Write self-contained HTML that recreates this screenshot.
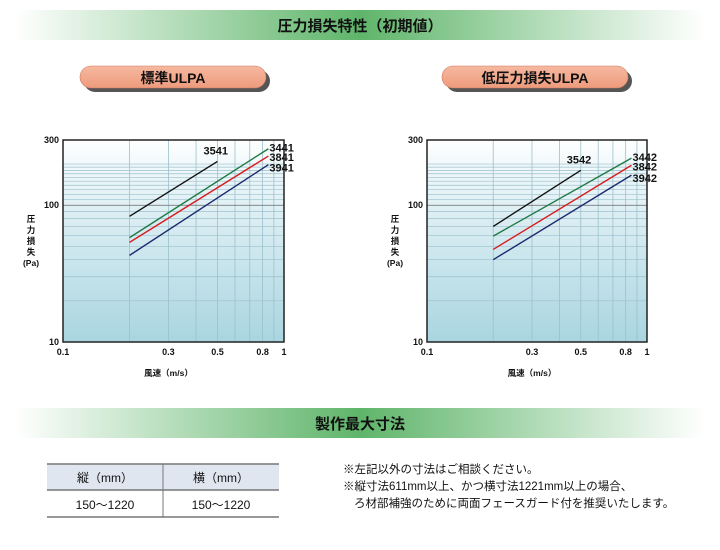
<!DOCTYPE html>
<html><head><meta charset="utf-8"><style>
body{margin:0;width:720px;height:545px;background:#fff;overflow:hidden;font-family:"Liberation Sans","Noto Sans CJK JP",sans-serif}
svg text{font-family:"Liberation Sans","Noto Sans CJK JP",sans-serif}
</style></head><body>
<svg id="s" width="720" height="545" xmlns="http://www.w3.org/2000/svg">
<defs>
<linearGradient id="band" x1="0" x2="1"><stop offset="0" stop-color="#fff"/><stop offset="0.5" stop-color="#5fb56a"/><stop offset="1" stop-color="#fff"/></linearGradient>
<linearGradient id="plotbg" x1="0" y1="0" x2="0" y2="1"><stop offset="0" stop-color="#ffffff"/><stop offset="0.15" stop-color="#eef7fa"/><stop offset="1" stop-color="#a9d5e0"/></linearGradient>
<linearGradient id="pill" x1="0" y1="0" x2="0" y2="1"><stop offset="0" stop-color="#f6b9a0"/><stop offset="1" stop-color="#ee9a7c"/></linearGradient>
</defs>
<rect x="15" y="10" width="690" height="30" fill="url(#band)"/>
<text x="360" y="31" text-anchor="middle" font-size="15" font-weight="bold" fill="#111">圧力損失特性（初期値）</text>
<g>
<rect x="84" y="70" width="186" height="22" rx="11" fill="#555"/>
<rect x="80" y="66" width="186" height="22" rx="11" fill="url(#pill)" stroke="#c97a5e" stroke-width="0.6"/>
<text x="173" y="83" text-anchor="middle" font-size="14" font-weight="bold" fill="#111">標準ULPA</text></g>
<g>
<rect x="446" y="70" width="186" height="22" rx="11" fill="#555"/>
<rect x="442" y="66" width="186" height="22" rx="11" fill="url(#pill)" stroke="#c97a5e" stroke-width="0.6"/>
<text x="535" y="83" text-anchor="middle" font-size="14" font-weight="bold" fill="#111">低圧力損失ULPA</text></g>
<g id="c1"></g>
<g id="c2"></g>
<rect x="15" y="408" width="690" height="30" fill="url(#band)"/>
<text x="360" y="429" text-anchor="middle" font-size="15" font-weight="bold" fill="#111">製作最大寸法</text>
<g>
<rect x="47" y="464" width="232" height="26" fill="#dfe6f0"/>
<line x1="47" y1="464" x2="279" y2="464" stroke="#777" stroke-width="1.5"/>
<line x1="47" y1="490" x2="279" y2="490" stroke="#777" stroke-width="1.5"/>
<line x1="47" y1="517" x2="279" y2="517" stroke="#777" stroke-width="1.5"/>
<line x1="163" y1="464" x2="163" y2="517" stroke="#777"/>
<text x="105" y="482" text-anchor="middle" font-size="12" fill="#111">縦（mm）</text>
<text x="221" y="482" text-anchor="middle" font-size="12" fill="#111">横（mm）</text>
<text x="105" y="509" text-anchor="middle" font-size="12" fill="#111">150～1220</text>
<text x="221" y="509" text-anchor="middle" font-size="12" fill="#111">150～1220</text>
</g>
<g font-size="11.5" fill="#111">
<text x="343" y="473">※左記以外の寸法はご相談ください。</text>
<text x="343" y="490">※縦寸法611mm以上、かつ横寸法1221mm以上の場合、</text>
<text x="354" y="507">ろ材部補強のために両面フェースガード付を推奨いたします。</text>
</g>
</svg>
<script>
const xTicks=[0.1,0.3,0.5,0.8,1];
const xTickLabels=["0.1","0.3","0.5","0.8","1"];
const yTicks=[10,100,300];
const yTickLabels=["10","100","300"];
const seriesColors=["#111","#1e7a45","#d81e1e","#1c2a6e"];
const speedStart=[0.2,0.2,0.2,0.2];
const speedEnd1=[0.5,0.85,0.85,0.85];
const speedEnd2=[0.5,0.85,0.85,0.85];
const names1=["3541","3441","3841","3941"];
const start1=[83,58,53.5,43];
const end1=[209,259,229,198];
const names2=["3542","3442","3842","3942"];
const start2=[70,59.5,47.5,40];
const end2=[180,221,196,166];
const NS="http://www.w3.org/2000/svg";
function mk(p,t,a){const e=document.createElementNS(NS,t);for(const k in a)e.setAttribute(k,a[k]);p.appendChild(e);return e;}
function chart(g,x0,x1,names,st,en,ends){
 const y0=342,yTop=140;
 const sx=v=>x0+(x1-x0)*(Math.log10(v)+1);
 const sy=v=>y0-(y0-yTop)*(Math.log10(v)-1)/Math.log10(30);
 const bg=mk(g,'rect',{x:x0,y:yTop,width:x1-x0,height:y0-yTop,fill:'url(#plotbg)'});
 
 
 for(let d=2;d<=9;d++){const gl=mk(g,'line',{x1:sx(d/10),x2:sx(d/10),y1:yTop,y2:y0,stroke:'#9cc0cc','stroke-width':0.8});
  
  }
 const hs=[20,30,40,50,60,70,80,90,110,120,130,140,150,160,170,180,190,200];
 hs.forEach(v=>{const gl=mk(g,'line',{x1:x0,x2:x1,y1:sy(v),y2:sy(v),stroke:'#9cc0cc','stroke-width':0.7});
  
  });
 const h100=mk(g,'line',{x1:x0,x2:x1,y1:sy(100),y2:sy(100),stroke:'#666','stroke-width':0.8});
 
 
 const fr=mk(g,'rect',{x:x0,y:yTop,width:x1-x0,height:y0-yTop,fill:'none',stroke:'#222','stroke-width':1.5});
 
 
 xTicks.forEach((v,i)=>{const t=mk(g,'text',{x:sx(v),y:355,'text-anchor':'middle','font-size':9,'font-weight':'bold',fill:'#111'});t.textContent=xTickLabels[i];
  
  });
 yTicks.forEach((v,i)=>{const t=mk(g,'text',{x:x0-4,y:sy(v)+3,'text-anchor':'end','font-size':9,'font-weight':'bold',fill:'#111'});t.textContent=yTickLabels[i];
  
  });
 const xt=mk(g,'text',{x:(x0+x1)/2-5,y:376,'text-anchor':'middle','font-size':8.5,'font-weight':'bold',fill:'#111'});xt.textContent='風速（m/s）';
 
 
 ['圧','力','損','失','(Pa)'].forEach((c,i)=>{const t=mk(g,'text',{x:x0-32,y:222+i*11,'text-anchor':'middle','font-size':8.5,'font-weight':'bold',fill:'#111'});t.textContent=c;
  
  });
 names.forEach((n,i)=>{
  const l=mk(g,'line',{x1:sx(speedStart[i]),y1:sy(st[i]),x2:sx(ends[i]),y2:sy(en[i]),stroke:seriesColors[i],'stroke-width':1.4});
  
  
  const t=mk(g,'text',{'font-size':11,'font-weight':'bold',fill:'#111'});
  if(i===0){t.setAttribute('x',sx(ends[i])-14);t.setAttribute('y',sy(en[i])-7);}
  else{t.setAttribute('x',sx(ends[i])+1);t.setAttribute('y',sy(en[i])+3+(i-1)*2);}
  t.textContent=n;
  
  
 });
}
chart(document.getElementById('c1'),63,284,names1,start1,end1,speedEnd1);
chart(document.getElementById('c2'),427,647,names2,start2,end2,speedEnd2);
</script>
</body></html>
